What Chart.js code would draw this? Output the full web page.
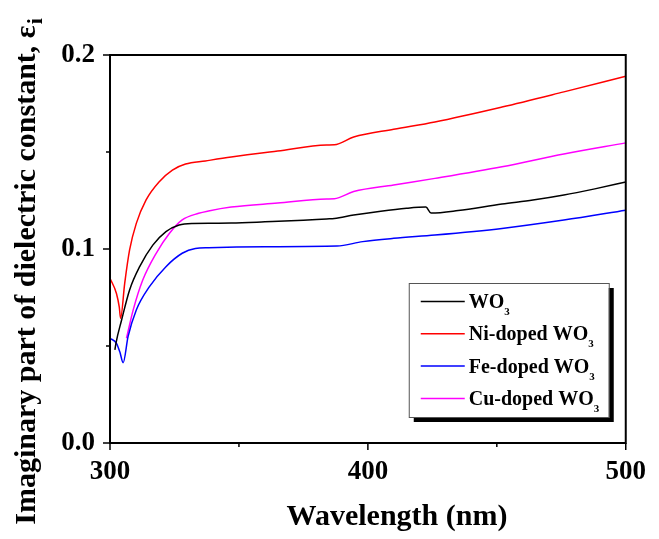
<!DOCTYPE html>
<html>
<head>
<meta charset="utf-8">
<script src="https://cdn.jsdelivr.net/npm/chart.js@4"></script>
<style>
  body { margin: 0; background: #fff; }
</style>
</head>
<body>
<canvas id="epsChart" width="659" height="539"></canvas>
<script>
// values (wavelength in nm, imaginary dielectric constant)
const seriesLabels = ['WO3', 'Ni-doped WO3', 'Fe-doped WO3', 'Cu-doped WO3'];
const seriesColors = ['#000000', '#ff0000', '#0000ff', '#ff00ff'];

const wo3Wl  = [301.9, 302.3, 304.5, 307.6, 311.5, 316.6, 321.7, 326.8, 331.9, 340, 347, 360, 375, 384, 387, 394.5, 405, 415, 422.5, 424.5, 435, 452, 464, 476, 488, 500];
const wo3Eps = [0.048, 0.0514, 0.0634, 0.0789, 0.0909, 0.102, 0.109, 0.1124, 0.1132, 0.1133, 0.1134, 0.114, 0.1148, 0.1155, 0.1157, 0.1175, 0.1195, 0.121, 0.1216, 0.1185, 0.1198, 0.1232, 0.1252, 0.1278, 0.131, 0.1345];

const niWl  = [300, 302.5, 303.6, 304.1, 305.7, 307.6, 310.2, 314, 319.1, 324.2, 329.3, 337, 347, 365, 384, 387, 394.5, 410, 426, 452, 476, 500];
const niEps = [0.0849, 0.0771, 0.07, 0.0643, 0.0823, 0.0995, 0.1132, 0.1253, 0.1347, 0.1407, 0.1438, 0.1454, 0.1474, 0.1505, 0.1536, 0.1537, 0.1577, 0.1617, 0.1655, 0.1732, 0.181, 0.189];

const feWl  = [300, 302.5, 303.8, 305.1, 307, 310.2, 315.3, 321.7, 328, 333.1, 338.2, 360, 388, 398, 410, 426, 452, 476, 500];
const feEps = [0.054, 0.0514, 0.047, 0.0414, 0.0548, 0.0686, 0.0806, 0.0909, 0.0978, 0.1003, 0.1007, 0.1012, 0.1015, 0.1038, 0.1055, 0.1072, 0.1106, 0.1149, 0.12];

const cuWl  = [306.4, 309, 312.7, 317.9, 323, 328, 334.4, 338.2, 347, 365, 384, 387, 394.5, 410, 426, 452, 476, 500];
const cuEps = [0.054, 0.0686, 0.084, 0.0978, 0.108, 0.115, 0.1184, 0.1196, 0.1216, 0.1237, 0.1258, 0.1259, 0.1296, 0.133, 0.1364, 0.1424, 0.149, 0.1547];

const xMajor = [300, 400, 500];
const xMinor = [350, 450];
const yMajor = [0, 0.1, 0.2];
const yMinor = [0.05, 0.15];

const xTitle = 'Wavelength (nm)';
const yTitle = 'Imaginary part of dielectric constant, ε';
const yTitleSub = 'i';

const serif = "'Liberation Serif', 'Times New Roman', serif";

function pts(xs, ys) {
  return xs.map((x, i) => ({x: x, y: ys[i]}));
}

const allWl = [wo3Wl, niWl, feWl, cuWl];
const allEps = [wo3Eps, niEps, feEps, cuEps];

const frame = {
  id: 'frame',
  afterDraw(chart) {
    const ctx = chart.ctx;
    const a = chart.chartArea;
    const xs = chart.scales.x, ys = chart.scales.y;
    ctx.save();
    ctx.strokeStyle = '#000';
    ctx.lineWidth = 2;
    ctx.strokeRect(a.left, a.top, a.right - a.left, a.bottom - a.top);

    // ticks, outward
    ctx.lineWidth = 1.5;
    ctx.beginPath();
    xMajor.forEach(v => { const p = xs.getPixelForValue(v); ctx.moveTo(p, a.bottom); ctx.lineTo(p, a.bottom + 7); });
    xMinor.forEach(v => { const p = xs.getPixelForValue(v); ctx.moveTo(p, a.bottom); ctx.lineTo(p, a.bottom + 4); });
    yMajor.forEach(v => { const p = ys.getPixelForValue(v); ctx.moveTo(a.left, p); ctx.lineTo(a.left - 7, p); });
    yMinor.forEach(v => { const p = ys.getPixelForValue(v); ctx.moveTo(a.left, p); ctx.lineTo(a.left - 4, p); });
    ctx.stroke();

    // axis titles
    ctx.fillStyle = '#000';
    ctx.font = 'bold 30px ' + serif;
    ctx.textAlign = 'center';
    ctx.textBaseline = 'alphabetic';
    ctx.fillText(xTitle, 397, 525);

    ctx.save();
    ctx.translate(35, 272);
    ctx.rotate(-Math.PI / 2);
    const w1 = ctx.measureText(yTitle).width;
    ctx.font = 'bold 22px ' + serif;
    const w2 = ctx.measureText(yTitleSub).width;
    ctx.font = 'bold 30px ' + serif;
    ctx.textAlign = 'left';
    const start = -(w1 + w2) / 2;
    ctx.fillText(yTitle, start, 0);
    ctx.font = 'bold 22px ' + serif;
    ctx.fillText(yTitleSub, start + w1 + 1, 7);
    ctx.restore();

    // legend with shadow
    const bx = a.right - 217, by = a.bottom - 160, bw = 200, bh = 134;
    ctx.fillStyle = '#000';
    ctx.fillRect(bx + 5, by + 5, bw, bh);
    ctx.fillStyle = '#fff';
    ctx.fillRect(bx, by, bw, bh);
    ctx.strokeStyle = '#555';
    ctx.lineWidth = 1;
    ctx.strokeRect(bx + 0.5, by + 0.5, bw, bh);

    chart.data.datasets.forEach((ds, i) => {
      const base = by + 25 + i * 32.3;
      ctx.strokeStyle = ds.borderColor;
      ctx.lineWidth = 1.5;
      ctx.beginPath();
      ctx.moveTo(bx + 12, base - 6.5);
      ctx.lineTo(bx + 56, base - 6.5);
      ctx.stroke();
      const txt = ds.label.slice(0, -1);
      ctx.fillStyle = '#000';
      ctx.font = 'bold 20px ' + serif;
      ctx.textAlign = 'left';
      ctx.textBaseline = 'alphabetic';
      ctx.fillText(txt, bx + 60, base);
      const tw = ctx.measureText(txt).width;
      ctx.font = 'bold 11px ' + serif;
      ctx.fillText(ds.label.slice(-1), bx + 60 + tw, base + 7);
    });
    ctx.restore();
  }
};

new Chart(document.getElementById('epsChart'), {
  type: 'line',
  data: {
    datasets: seriesLabels.map((lab, i) => ({
      label: lab,
      data: pts(allWl[i], allEps[i]),
      borderColor: seriesColors[i],
      backgroundColor: seriesColors[i],
      borderWidth: 1.5,
      pointRadius: 0,
      cubicInterpolationMode: 'monotone',
      fill: false
    }))
  },
  options: {
    responsive: false,
    animation: false,
    layout: { padding: { top: 55, right: 26, left: 0, bottom: 0 } },
    plugins: {
      legend: { display: false },
      tooltip: { enabled: false }
    },
    scales: {
      x: {
        type: 'linear',
        min: 300,
        max: 500,
        afterFit: s => { s.height = 96; },
        grid: { display: false, drawTicks: false },
        border: { display: false },
        ticks: {
          stepSize: 100,
          padding: 13,
          color: '#000',
          font: { family: serif, size: 27, weight: 'bold' }
        }
      },
      y: {
        min: 0,
        max: 0.2,
        afterFit: s => { s.width = 110; },
        grid: { display: false, drawTicks: false },
        border: { display: false },
        ticks: {
          stepSize: 0.1,
          padding: 15,
          color: '#000',
          font: { family: serif, size: 27, weight: 'bold' },
          callback: v => v.toFixed(1)
        }
      }
    }
  },
  plugins: [frame]
});
</script>
</body>
</html>
